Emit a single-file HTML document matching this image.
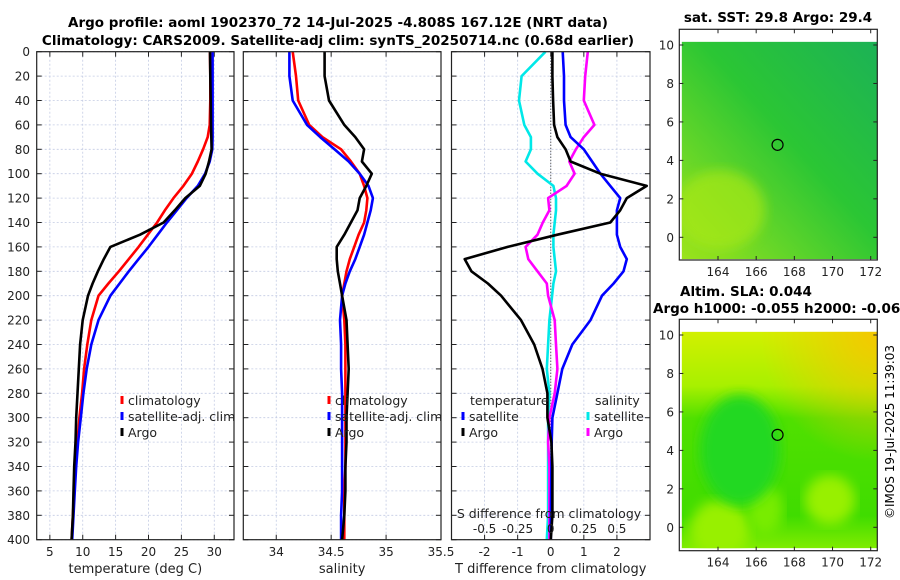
<!DOCTYPE html>
<html><head><meta charset="utf-8"><style>
body{margin:0;background:#fff}
svg{display:block;font-family:"DejaVu Sans","Liberation Sans",sans-serif}
</style></head><body>
<svg id="fig" width="900" height="580" viewBox="0 0 900 580">
<defs>
<linearGradient id="sstGrad" x1="0" y1="1" x2="1" y2="0">
<stop offset="0" stop-color="#9ce41c"/><stop offset="0.3" stop-color="#5ed42a"/><stop offset="0.55" stop-color="#2bc634"/><stop offset="1" stop-color="#1cb256"/></linearGradient>
<linearGradient id="slaGrad" x1="0" y1="0" x2="0" y2="1">
<stop offset="0" stop-color="#d2f000"/><stop offset="0.25" stop-color="#a8f000"/><stop offset="0.4" stop-color="#50e000"/><stop offset="0.85" stop-color="#40dc00"/><stop offset="1" stop-color="#80ec00"/></linearGradient>
<radialGradient id="orange" cx="1" cy="0" r="0.6"><stop offset="0" stop-color="#f4c800"/><stop offset="1" stop-color="#f4c800" stop-opacity="0"/></radialGradient>
<filter id="blur"><feGaussianBlur stdDeviation="6"/></filter>
<clipPath id="c1"><rect x="681.7" y="41.7" width="195.6" height="217.5"/></clipPath>
<clipPath id="c2"><rect x="681.7" y="331.7" width="195.6" height="216.6"/></clipPath>
</defs>
<g font-weight="bold" font-size="13.5" text-anchor="middle" fill="#000">
<text x="338" y="27">Argo profile: aoml 1902370_72 14-Jul-2025 -4.808S 167.12E (NRT data)</text>
<text x="338" y="45">Climatology: CARS2009. Satellite-adj clim: synTS_20250714.nc (0.68d earlier)</text>
<text x="778" y="22">sat. SST: 29.8 Argo: 29.4</text>
<text x="680" y="296" text-anchor="start">Altim. SLA: 0.044</text>
<text x="653" y="313" text-anchor="start">Argo h1000: -0.055 h2000: -0.066</text>
</g>
<text x="0" y="0" transform="translate(894,432) rotate(-90)" font-size="12" text-anchor="middle">©IMOS 19-Jul-2025 11:39:03</text>
<g id="maps">
<g clip-path="url(#c1)">
<rect x="681.7" y="41.7" width="195.6" height="217.5" fill="url(#sstGrad)"/>
<ellipse cx="720" cy="210" rx="45" ry="40" fill="#a8e818" opacity="0.7" filter="url(#blur)"/>
</g>
<g clip-path="url(#c2)">
<rect x="681.7" y="331.7" width="195.6" height="216.6" fill="url(#slaGrad)"/>
<rect x="681.7" y="331.7" width="195.6" height="216.6" fill="url(#orange)"/>
<ellipse cx="720" cy="530" rx="30" ry="30" fill="#98f000" filter="url(#blur)"/>
<ellipse cx="830" cy="500" rx="25" ry="25" fill="#98f000" filter="url(#blur)"/>
<ellipse cx="765" cy="510" rx="18" ry="25" fill="#78ec00" filter="url(#blur)"/>
<ellipse cx="740" cy="450" rx="40" ry="55" fill="#20d820" filter="url(#blur)"/>
</g>
</g>
<g id="plots"></g>
</svg>
<script>
const depths=[0,20,40,60,70,80,90,100,110,120,130,140,150,160,170,180,190,200,220,240,260,280,300,320,340,360,380,400];
const tempClim=[29.35,29.4,29.4,29.3,29.0,28.3,27.5,26.6,25.3,23.8,22.5,21.3,19.9,18.5,17.0,15.5,13.9,12.4,11.3,10.7,10.2,9.9,9.5,9.2,8.9,8.7,8.5,8.3];
const tempSat=[29.75,29.75,29.75,29.75,29.75,29.7,29.3,28.6,27.5,25.8,24.3,22.8,21.4,20.0,18.5,17.0,15.6,14.2,12.4,11.3,10.6,10.1,9.7,9.3,9.0,8.8,8.6,8.4];
const tempArgo=[29.35,29.4,29.45,29.5,29.55,29.6,29.2,28.7,27.8,25.6,24.0,22.3,18.7,14.2,13.2,12.3,11.5,10.8,10.0,9.6,9.4,9.2,9.0,8.9,8.7,8.6,8.5,8.3];
const salClim=[34.15,34.18,34.2,34.3,34.42,34.59,34.68,34.76,34.8,34.83,34.82,34.8,34.75,34.71,34.67,34.64,34.62,34.6,34.62,34.63,34.63,34.63,34.63,34.63,34.63,34.62,34.62,34.62];
const salSat=[34.12,34.12,34.15,34.28,34.4,34.53,34.66,34.76,34.84,34.88,34.86,34.83,34.8,34.76,34.72,34.67,34.63,34.6,34.58,34.59,34.59,34.6,34.6,34.6,34.6,34.6,34.59,34.59];
const salArgo=[34.44,34.44,34.48,34.62,34.72,34.8,34.78,34.87,34.82,34.76,34.74,34.68,34.62,34.55,34.55,34.56,34.58,34.6,34.64,34.65,34.66,34.65,34.64,34.64,34.63,34.63,34.62,34.6];
const dTsat=[0.36,0.4,0.4,0.45,0.6,1.0,1.25,1.5,1.8,2.1,2.0,2.0,2.0,2.1,2.3,2.2,1.9,1.55,1.2,0.65,0.35,0.2,0.05,0.03,0.02,0.01,0,0];
const dTargo=[0.05,0.05,0.07,0.1,0.2,0.45,0.6,1.5,2.9,2.3,2.1,1.8,0.2,-1.3,-2.6,-2.4,-1.9,-1.5,-0.9,-0.5,-0.25,-0.1,-0.1,0.02,0.05,0.05,0.05,0];
const dSsat=[-0.04,-0.22,-0.24,-0.2,-0.15,-0.15,-0.19,-0.1,0.02,0.04,0.04,0.03,0.02,0.02,0.03,0.04,0.02,0.01,-0.01,-0.02,-0.03,-0.01,-0.02,-0.02,-0.02,-0.02,-0.02,-0.03];
const dSargo=[0.28,0.26,0.25,0.33,0.25,0.19,0.14,0.18,0.12,-0.02,-0.01,-0.06,-0.1,-0.19,-0.17,-0.1,-0.03,-0.02,0.03,0.04,0.05,0.03,-0.01,-0.02,-0.01,-0.01,-0.01,-0.01];
const depthTicks=[0,20,40,60,80,100,120,140,160,180,200,220,240,260,280,300,320,340,360,380,400];
const tempTicks=[5,10,15,20,25,30];
const salTicks=[34,34.5,35,35.5];
const salTickLabels=["34","34.5","35","35.5"];
const dTTicks=[-2,-1,0,1,2];
const dSTicks=[-0.5,-0.25,0,0.25,0.5];
const dSTickLabels=["-0.5","-0.25","0","0.25","0.5"];
const lonTicks=[164,166,168,170,172];
const latTicks=[0,2,4,6,8,10];
const argoLon=167.12, argoLat=4.808;

const NS="http://www.w3.org/2000/svg";
const root=document.getElementById('plots');
function mk(tag,attrs,parent){const e=document.createElementNS(NS,tag);for(const k in attrs)e.setAttribute(k,attrs[k]);(parent||root).appendChild(e);return e;}
const yTop=51.7,yBot=539.7;
const yD=d=>yTop+(d/400)*(yBot-yTop);
function lin(d0,d1,r0,r1){return v=>r0+(v-d0)/(d1-d0)*(r1-r0);}
const panels=[
 {x0:36.7,x1:234,sx:lin(3,33,36.7,234),ticks:tempTicks,labels:tempTicks.map(String),title:"temperature (deg C)",name:"temperature-panel"},
 {x0:243.3,x1:441,sx:lin(33.7,35.5,243.3,441),ticks:salTicks,labels:salTickLabels,title:"salinity",name:"salinity-panel"},
 {x0:451.5,x1:650,sx:lin(-3,3,451.5,650),ticks:dTTicks,labels:dTTicks.map(String),title:"T difference from climatology",name:"difference-panel"}
];
panels.forEach((p,i)=>{
 const g=mk('g',{});
 
 
 depthTicks.forEach(d=>{
  const y=yD(d);
  const gl=mk('line',{x1:p.x0,x2:p.x1,y1:y,y2:y,stroke:'#c4cce4','stroke-width':0.8,'stroke-dasharray':'2,2'},g);
  
  
  mk('line',{x1:p.x0,x2:p.x0+5,y1:y,y2:y,stroke:'#222','stroke-width':1},g);
  mk('line',{x1:p.x1-5,x2:p.x1,y1:y,y2:y,stroke:'#222','stroke-width':1},g);
  if(i===0){const t=mk('text',{x:30,y:y+4.5,'font-size':12,'text-anchor':'end',fill:'#222'},g);t.textContent=d;
   
   }
 });
 p.ticks.forEach((v,k)=>{
  const x=p.sx(v);
  const gl=mk('line',{x1:x,x2:x,y1:yTop,y2:yBot,stroke:'#c4cce4','stroke-width':0.8,'stroke-dasharray':'2,2'},g);
  
  
  mk('line',{x1:x,x2:x,y1:yBot-5,y2:yBot,stroke:'#222'},g);
  mk('line',{x1:x,x2:x,y1:yTop,y2:yTop+5,stroke:'#222'},g);
  const t=mk('text',{x:x,y:556,'font-size':12,'text-anchor':'middle',fill:'#222'},g);t.textContent=p.labels[k];
  
  
 });
 const tt=mk('text',{x:(p.x0+p.x1)/2,y:573,'font-size':13,'text-anchor':'middle',fill:'#222'},g);tt.textContent=p.title;
 
 
});
function line(p,vals,color,name,scale){
 const pts=depths.map((d,k)=>(p.sx(vals[k]*(scale||1))).toFixed(1)+','+yD(d).toFixed(1)).join(' ');
 const e=mk('polyline',{points:pts,fill:'none',stroke:color,'stroke-width':2.6,'stroke-linejoin':'round'});
 
 
}
const P=panels;
const zl=mk('line',{x1:P[2].sx(0),x2:P[2].sx(0),y1:yTop,y2:yBot,stroke:'#333','stroke-width':1,'stroke-dasharray':'1,2'});


line(P[0],tempClim,'#f00','temp-climatology-line');
line(P[0],tempSat,'#00f','temp-satellite-line');
line(P[0],tempArgo,'#000','temp-argo-line');
line(P[1],salClim,'#f00','sal-climatology-line');
line(P[1],salSat,'#00f','sal-satellite-line');
line(P[1],salArgo,'#000','sal-argo-line');
line(P[2],dSsat,'#00e8e8','sdiff-satellite-line',4);
line(P[2],dSargo,'#f0f','sdiff-argo-line',4);
line(P[2],dTsat,'#00f','tdiff-satellite-line');
line(P[2],dTargo,'#000','tdiff-argo-line');
P.forEach(p=>{const r=mk('rect',{x:p.x0,y:yTop,width:p.x1-p.x0,height:yBot-yTop,fill:'none',stroke:'#222','stroke-width':1.2});
 
 });
const st=mk('text',{x:549,y:518,'font-size':12.5,'text-anchor':'middle',fill:'#222'});st.textContent='S difference from climatology';


dSTicks.forEach((v,k)=>{const t=mk('text',{x:P[2].sx(v*4),y:533,'font-size':12,'text-anchor':'middle',fill:'#222'});t.textContent=dSTickLabels[k];
 
 });
function legend(x,y,color,label){
 const g=mk('g',{});
 
 
 mk('line',{x1:x,x2:x,y1:y-9,y2:y-1,stroke:color,'stroke-width':3},g);
 const t=mk('text',{x:x+6,y:y,'font-size':12.5,fill:'#222'},g);t.textContent=label;
}
legend(122,405,'#f00','climatology');legend(122,421,'#00f','satellite-adj. clim');legend(122,437,'#000','Argo');
legend(329,405,'#f00','climatology');legend(329,421,'#00f','satellite-adj. clim');legend(329,437,'#000','Argo');
const lh1=mk('text',{x:470,y:405,'font-size':12.5,fill:'#222'});lh1.textContent='temperature';


const lh2=mk('text',{x:595,y:405,'font-size':12.5,fill:'#222'});lh2.textContent='salinity';


legend(463,421,'#00f','satellite');legend(463,437,'#000','Argo');
legend(588,421,'#00e8e8','satellite');legend(588,437,'#f0f','Argo');
const lonX=lin(164,172,718,870.7);
const maps=[{top:29.3,bot:260,lat:lin(0,10,237.3,45),name:'sst-map'},{top:319.3,bot:550.7,lat:lin(0,10,527.3,335),name:'sla-map'}];
maps.forEach(m=>{
 const g=mk('g',{});
 
 
 const c=mk('circle',{cx:lonX(argoLon),cy:m.lat(argoLat),r:5.5,fill:'none',stroke:'#000','stroke-width':1.2},g);
 
 
 mk('rect',{x:679.3,y:m.top,width:198,height:m.bot-m.top,fill:'none',stroke:'#222','stroke-width':1.2},g);
 lonTicks.forEach(v=>{const x=lonX(v);
  mk('line',{x1:x,x2:x,y1:m.bot-4,y2:m.bot,stroke:'#222'},g);
  mk('line',{x1:x,x2:x,y1:m.top,y2:m.top+4,stroke:'#222'},g);
  const t=mk('text',{x:x,y:m.bot+16,'font-size':12,'text-anchor':'middle',fill:'#222'},g);t.textContent=v;
  
  });
 latTicks.forEach(v=>{const y=m.lat(v);
  mk('line',{x1:679.3,x2:683.3,y1:y,y2:y,stroke:'#222'},g);
  mk('line',{x1:873.3,x2:877.3,y1:y,y2:y,stroke:'#222'},g);
  const t=mk('text',{x:674,y:y+4.5,'font-size':12,'text-anchor':'end',fill:'#222'},g);t.textContent=v;
  
  });
});
</script>
</body></html>
